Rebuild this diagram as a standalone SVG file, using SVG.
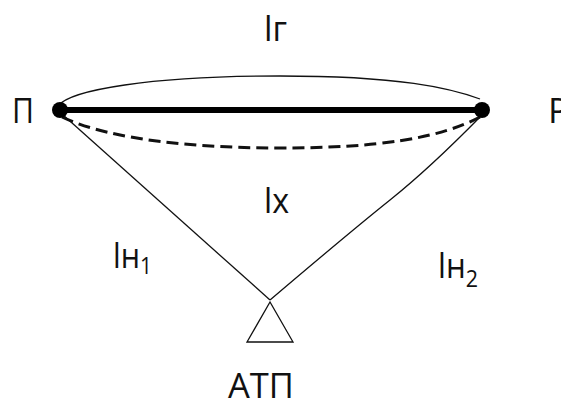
<svg xmlns="http://www.w3.org/2000/svg" width="561" height="398" viewBox="0 0 561 398">
<style>
.t{font-family:"Open Sans","Noto Sans","DejaVu Sans",sans-serif;font-size:35px;fill:#111}
.thin{fill:none;stroke:#111;stroke-width:1.3}
.dash{fill:none;stroke:#111;stroke-width:3;stroke-dasharray:12 6}
.thick{fill:none;stroke:#000;stroke-width:6}
</style>
<rect width="561" height="398" fill="#fff"/>
<g id="connectors">
<path class="thin" d="M 58 106 C 70 90, 150 76, 280 76 C 400 76, 450 88, 480 99"/>
<path class="thick" d="M 60 110 L 482 110"/>
<path class="dash" d="M 62 117 C 100 135, 170 148, 280 148 C 380 148, 440 138, 480 117"/>
<path class="thin" d="M 62 114 L 270 300"/>
<path class="thin" d="M 481 116 Q 430 168 390 200 T 270 300"/>
<text class="t" x="264" y="41" textLength="23" lengthAdjust="spacingAndGlyphs">lг</text>
<text class="t" x="264" y="213" textLength="25" lengthAdjust="spacingAndGlyphs">lx</text>
<text class="t" x="113" y="268" textLength="39" lengthAdjust="spacingAndGlyphs">lн<tspan font-size="24" dy="6">1</tspan></text>
<text class="t" x="438" y="278" textLength="40" lengthAdjust="spacingAndGlyphs">lн<tspan font-size="24" dy="9">2</tspan></text>
</g>
<g id="node-P-left">
<circle cx="60" cy="110" r="8" fill="#000"/>
<text class="t" x="12" y="123" textLength="22" lengthAdjust="spacingAndGlyphs">П</text>
</g>
<g id="node-R-right">
<circle cx="482" cy="110" r="8" fill="#000"/>
<text class="t" x="548" y="123">Р</text>
</g>
<g id="node-ATP">
<path class="thin" d="M 270 302 L 247 342 L 293 342 Z" stroke-width="1.6"/>
<text class="t" x="228" y="398" textLength="66" lengthAdjust="spacingAndGlyphs">АТП</text>
</g>
</svg>
